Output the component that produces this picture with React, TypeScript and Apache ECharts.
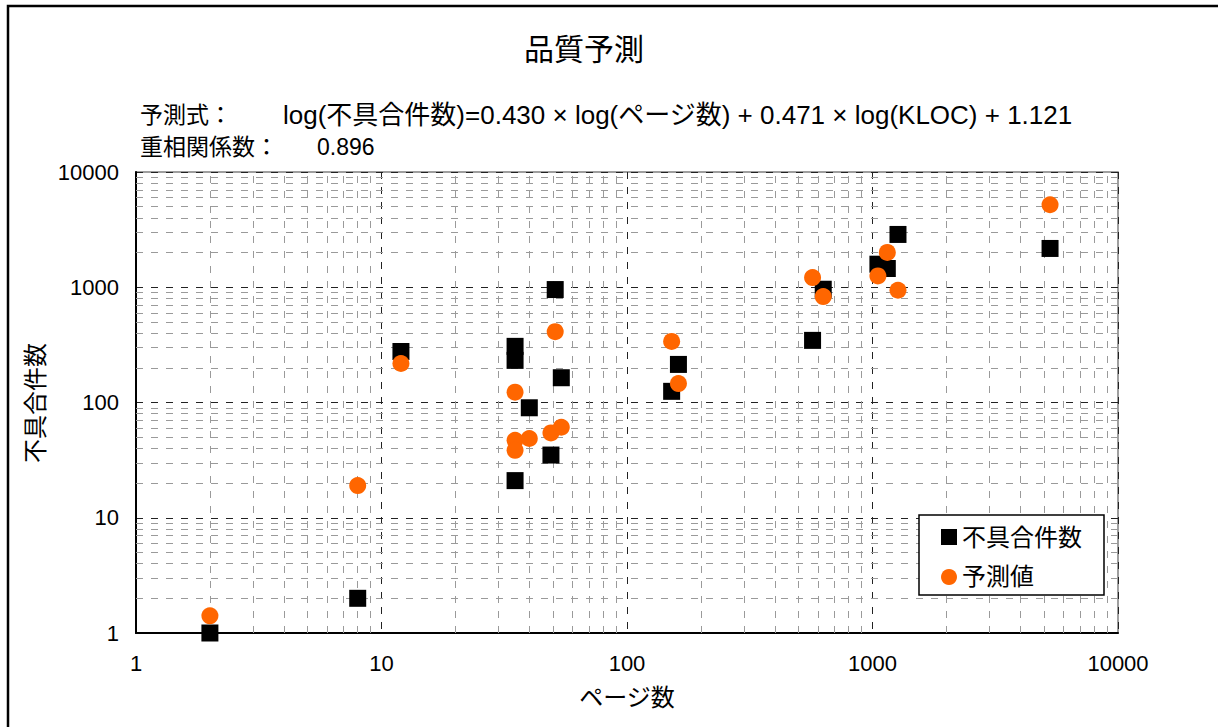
import React, { useEffect, useRef } from "react";
import * as echarts from "echarts";

const pages = [2, 8, 12, 35, 35, 35, 40, 49, 51, 54, 152, 162, 570, 630, 1052, 1149, 1270, 5287];
const defects = [1, 2, 277, 307, 232, 21, 90, 35, 955, 164, 125, 214, 346, 961, 1585, 1454, 2872, 2171];
const predicted = [1.41, 19, 218, 123, 47, 38.5, 48.7, 54.5, 412, 61, 339, 146, 1214, 830, 1254, 2004, 942, 5197];

const decades = [1, 10, 100, 1000];
const multipliers = [2, 3, 4, 5, 6, 7, 8, 9];

const titleText = "品質予測";
const formulaLabel = "予測式：";
const formulaText = "log(不具合件数)=0.430 × log(ページ数) + 0.471 × log(KLOC) + 1.121";
const corrLabel = "重相関係数：";
const corrValue = "0.896";
const xName = "ページ数";
const yName = "不具合件数";
const seriesNames = ["不具合件数", "予測値"];

const FONT = '"Liberation Sans", "Noto Sans CJK JP", sans-serif';

export default function App() {
  const ref = useRef<HTMLDivElement>(null);
  useEffect(() => {
    if (!ref.current) return;
    const chart = echarts.init(ref.current, null, { renderer: "svg" });
    const minor: number[] = [];
    decades.forEach((d) => multipliers.forEach((m) => minor.push(d * m)));
    const minorStyle = { color: "#9a9a9a", width: 1, type: [7, 8] as any };
    const option: any = {
      animation: false,
      backgroundColor: "#fff",
      textStyle: { fontFamily: FONT },
      grid: {
        left: 136,
        right: 100,
        top: 172,
        bottom: 94,
        show: true,
        borderColor: "#808080",
        borderWidth: 1.5,
        backgroundColor: "transparent",
      },
      xAxis: {
        type: "log",
        logBase: 10,
        min: 1,
        max: 10000,
        axisLine: { show: true, onZero: false, lineStyle: { color: "#000", width: 2 } },
        axisTick: { show: false },
        axisLabel: { color: "#000", fontSize: 22, fontFamily: FONT, margin: 19, formatter: (v: number) => String(v) },
        splitLine: { show: true, lineStyle: { color: "#222", width: 1, type: [7, 8] } },
      },
      yAxis: {
        type: "log",
        logBase: 10,
        min: 1,
        max: 10000,
        axisLine: { show: true, onZero: false, lineStyle: { color: "#000", width: 2 } },
        axisTick: { show: false },
        axisLabel: { color: "#000", fontSize: 22, fontFamily: FONT, margin: 17, formatter: (v: number) => String(v) },
        splitLine: { show: true, lineStyle: { color: "#222", width: 1, type: [7, 8] } },
      },
      legend: {
        data: [
          { name: seriesNames[0], icon: "rect", itemStyle: { color: "#000", opacity: 1, borderWidth: 0 } },
          { name: seriesNames[1], icon: "circle", itemStyle: { color: "#FF6600", opacity: 1, borderWidth: 0 } },
        ],
        orient: "vertical",
        left: 919,
        top: 515,
        z: 10,
        padding: [10, 22, 6, 22],
        itemGap: 16,
        itemWidth: 16,
        itemHeight: 16,
        borderColor: "#000",
        borderWidth: 1.5,
        backgroundColor: "#fff",
        textStyle: { fontSize: 24, color: "#000", fontFamily: FONT },
      },
      series: [
        {
          name: "grid",
          type: "scatter",
          data: [],
          z: 1,
          silent: true,
          markLine: {
            z: 1,
            silent: true,
            symbol: ["none", "none"],
            label: { show: false },
            lineStyle: minorStyle,
            emphasis: { disabled: true },
            data: [
              ...minor.map((v) => ({ xAxis: v, lineStyle: minorStyle })),
              ...minor.map((v) => ({ yAxis: v, lineStyle: minorStyle })),
            ],
          },
        },
        {
          name: seriesNames[0],
          type: "scatter",
          symbol: "rect",
          symbolSize: 17,
          z: 3,
          label: { show: false },
          itemStyle: { color: "#000", opacity: 1, borderWidth: 0 },
          emphasis: { disabled: true },
          data: pages.map((p, i) => [p, defects[i]]),
        },
        {
          name: seriesNames[1],
          type: "scatter",
          symbol: "circle",
          symbolSize: 17,
          z: 4,
          label: { show: false },
          itemStyle: { color: "#FF6600", opacity: 1, borderWidth: 0 },
          emphasis: { disabled: true },
          data: pages.map((p, i) => [p, predicted[i]]),
        },
      ],
      graphic: [
        {
          type: "polyline",
          shape: { points: [[8, 800], [8, 6], [1300, 6]] },
          style: { stroke: "#000", lineWidth: 2.5, fill: "none" },
          silent: true,
        },
        {
          type: "text",
          x: 584,
          y: 49,
          style: { text: titleText, font: `30px ${FONT}`, fill: "#000", textAlign: "center", textVerticalAlign: "middle" },
        },
        {
          type: "text",
          x: 140,
          y: 115,
          style: { text: formulaLabel, font: `23px ${FONT}`, fill: "#000", textAlign: "left", textVerticalAlign: "middle" },
        },
        {
          type: "text",
          x: 283,
          y: 115,
          style: { text: formulaText, font: `26px ${FONT}`, fill: "#000", textAlign: "left", textVerticalAlign: "middle" },
        },
        {
          type: "text",
          x: 140,
          y: 147,
          style: { text: corrLabel, font: `23px ${FONT}`, fill: "#000", textAlign: "left", textVerticalAlign: "middle" },
        },
        {
          type: "text",
          x: 317,
          y: 147,
          style: { text: corrValue, font: `23px ${FONT}`, fill: "#000", textAlign: "left", textVerticalAlign: "middle" },
        },
        {
          type: "text",
          x: 627,
          y: 697,
          style: { text: xName, font: `24px ${FONT}`, fill: "#000", textAlign: "center", textVerticalAlign: "middle" },
        },
        {
          type: "text",
          x: 35,
          y: 403,
          rotation: Math.PI / 2,
          style: { text: yName, font: `24px ${FONT}`, fill: "#000", textAlign: "center", textVerticalAlign: "middle" },
        },
      ],
    };
    chart.setOption(option);
    return () => chart.dispose();
  }, []);
  return <div ref={ref} style={{ position: "fixed", left: 0, top: 0, width: 1218, height: 727 }} />;
}
